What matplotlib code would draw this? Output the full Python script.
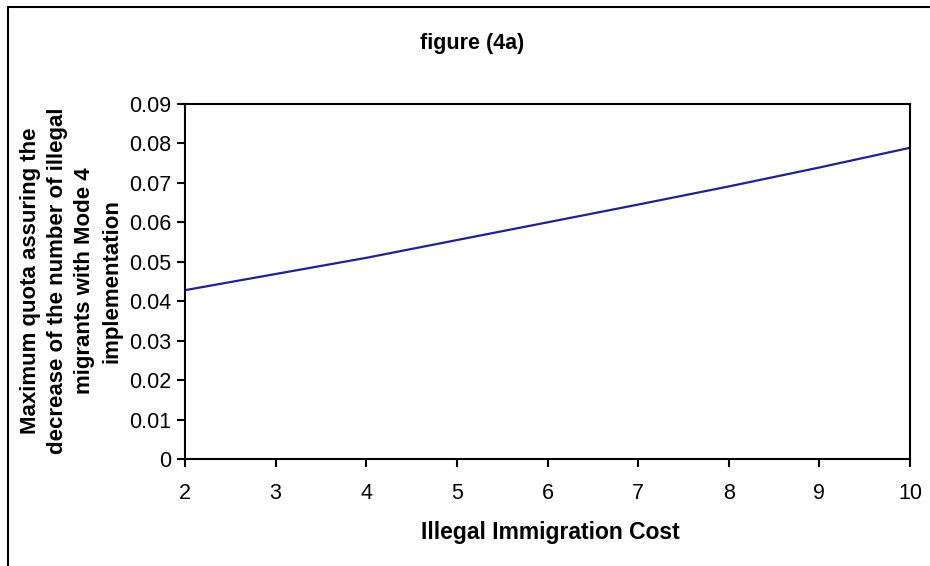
import matplotlib
matplotlib.use('Agg')
import matplotlib.pyplot as plt
from matplotlib.patches import Rectangle

plt.rcParams['font.family'] = ['Liberation Sans', 'DejaVu Sans']

# values
cost = [2, 3, 4, 5, 6, 7, 8, 9, 10]
quota = [0.0428, 0.0469, 0.0510, 0.0555, 0.0600, 0.0645, 0.0691, 0.0739, 0.0789]
x_ticks = [2, 3, 4, 5, 6, 7, 8, 9, 10]
y_ticks = [0, 0.01, 0.02, 0.03, 0.04, 0.05, 0.06, 0.07, 0.08, 0.09]
y_ticklabels = ['0', '0.01', '0.02', '0.03', '0.04', '0.05', '0.06', '0.07', '0.08', '0.09']

W, H = 930, 566
fig = plt.figure(figsize=(W / 100, H / 100), dpi=100)

# outer chart frame (only top and left edges are inside the picture)
fig.patches.append(Rectangle((8 / W, -0.1), 1.2, 1.1 - 7 / H, transform=fig.transFigure,
                             fill=False, edgecolor='black', linewidth=1.5))

ax = fig.add_axes([185 / W, 1 - 459 / H, (910 - 185) / W, (459 - 104) / H])
ax.plot(cost, quota, color='#22228F', linewidth=1.6)

ax.set_xlim(2, 10)
ax.set_ylim(0, 0.09)
ax.set_xticks(x_ticks)
ax.set_yticks(y_ticks)
ax.set_yticklabels(y_ticklabels)
ax.tick_params(direction='out', length=6, width=1.5, labelsize=15.5, pad=4)
ax.tick_params(axis='x', pad=11)
for s in ax.spines.values():
    s.set_linewidth(1.5)

fig.text(472 / W, 1 - 43 / H, 'figure (4a)', ha='center', va='center',
         fontsize=15.5, fontweight='bold')
fig.text(550 / W, 1 - 532 / H, 'Illegal Immigration Cost', ha='center', va='center',
         fontsize=16.5, fontweight='bold')
fig.text(71 / W, 1 - 281 / H,
         'Maximum quota assuring the\ndecrease of the number of illegal\nmigrants with Mode 4\nimplementation',
         ha='center', va='center', rotation=90, fontsize=16, fontweight='bold',
         linespacing=1.38)

fig.savefig('out.png', dpi=100)
